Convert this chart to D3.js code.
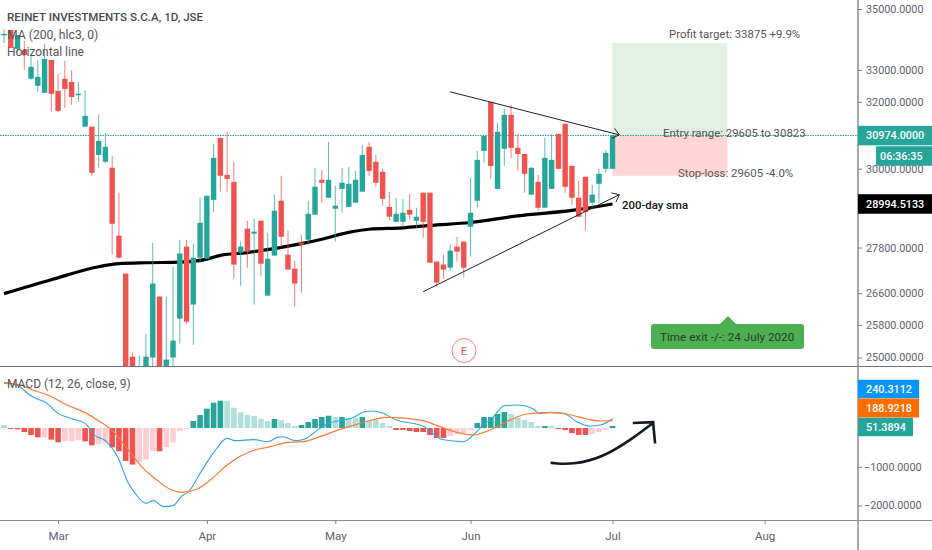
<!DOCTYPE html>
<html><head><meta charset="utf-8">
<script src="https://cdn.jsdelivr.net/npm/d3@7"></script>
<style>html,body{margin:0;padding:0;background:#fff;overflow:hidden}svg{display:block;font-family:Roboto,sans-serif}</style>
</head><body><svg id="c" width="932" height="550"></svg>
<script>
const opens=[34130,34300,33680,33640,32720,32500,32280,33320,32340,32720,32620,32220,31240,31240,30400,30200,30025,28120,27110,25020,24300,24400,25000,26515,24700,25000,25955,27825,26310,27530,27500,29110,30905,29820,29620,27665,28310,28175,28530,26540,27585,29085,27610,27240,27930,28010,28695,29680,29170,28860,29420,28915,29030,29340,30640,30200,29910,28915,28500,28500,28830,28530,29310,29310,27425,27345,27265,27825,27960,28365,29085,30520,32000,29420,30580,31600,30610,30430,29255,29620,28890,29420,31025,31330,30080,29170,29765,29030,29565,29995,29995];
const highs=[34330,34300,34130,33940,33480,33320,33840,33320,32880,33290,33000,32620,32370,31240,31600,31055,30370,29310,27110,25120,25045,25580,27930,26515,26515,27290,28010,28010,27905,29170,29225,30725,30905,31085,30200,27960,28530,28585,28530,28200,29255,29795,28255,27450,28145,29085,30025,29965,30785,29510,30025,30050,29935,30695,30785,30400,29995,29340,29170,29140,29280,28890,29310,29310,27425,27610,27880,28090,27960,29735,30520,30965,32000,31360,31780,31910,31025,30430,30050,29820,30905,31025,31025,31330,30080,29650,29765,29535,29995,30550,30974];
const lows=[33870,33710,33550,33000,32680,32310,32280,31690,31690,31810,31910,32000,31240,29795,30025,30170,27610,27500,24590,24300,24200,24300,24600,24500,24500,24600,25340,25830,25310,27395,27500,28775,29340,29340,26975,26795,27265,26310,27030,26540,27585,27825,27215,26260,26615,27880,28695,29030,29170,27960,28750,28915,29030,29340,29795,29480,28945,28530,28500,28365,28555,28335,28065,27395,26770,26975,27190,27425,27005,27560,28890,30170,29705,29420,30080,30315,29935,29310,29255,28805,28890,29420,29995,29310,28970,28640,28255,28830,29030,29880,29995];
const closes=[34170,33710,34130,33480,33100,32780,33350,32250,31720,32400,32150,32250,31570,29880,30815,30640,28445,27530,24590,24400,24700,25020,26850,24600,24950,25410,27640,25880,27530,28475,29225,30315,29795,29705,27345,27825,27690,28230,27370,27500,28805,28090,27215,26850,27880,28720,29480,29595,29680,28945,29595,29565,29680,30400,29935,29595,29140,28640,28720,28750,28695,28640,28500,27395,26875,27215,27720,27690,27265,28750,30255,30965,30080,31085,31600,30610,30430,29850,30025,28890,30315,30255,29995,29480,29170,28640,28775,29255,29850,30460,30974];

const smaIndex=[0,7,14,17,21,26,30,32,36,44,47,51,54,59,63,69,76,84,90];
const smaValues=[26590,26950,27290,27370,27395,27410,27490,27590,27665,27905,28025,28210,28295,28335,28400,28480,28665,28815,28994.5133];

const hist=[77,-26,-34,-103,-180,-240,-240,-300,-369,-343,-343,-317,-343,-446,-420,-395,-498,-600,-849,-944,-875,-815,-600,-600,-498,-369,-77,-17,180,335,498,652,704,704,523,403,335,309,232,180,232,206,129,51,77,154,232,283,317,283,283,257,257,283,206,206,129,51,-51,-51,-77,-103,-103,-180,-257,-257,-206,-154,-129,-51,129,283,283,360,412,360,257,206,154,51,51,51,-26,-51,-129,-180,-180,-154,-103,-51,51.3894];
const histStrong=[0,1,1,1,1,1,0,1,1,0,0,0,1,1,0,0,1,1,1,1,0,0,0,1,0,0,0,0,1,1,1,1,1,0,0,0,0,0,0,0,1,0,0,0,1,1,1,1,1,0,1,0,0,1,0,0,0,0,1,1,1,1,1,1,1,1,0,0,0,0,1,1,1,1,1,0,0,0,0,0,1,0,1,1,1,1,1,0,0,0,1];

const macdIndex=[0,2.1,3.8,5.3,6,8,10,12,13.5,15,16.9,18.4,19.4,21,22.1,23.6,25,26.3,27.3,29,31,33,34.2,36.9,39.1,40.4,41.3,43.1,44.5,46.7,47.7,51.7,53.2,54.4,56.1,57.8,62.2,63.7,64.7,66.5,68,69.4,70.9,72.4,73.9,75.9,78.3,79.1,80.8,82.8,84.7,86.5,88.2,90];
const macdValues=[1170,1092,851,722,679,378,241,120,-198,-327,-783,-1428,-1686,-1944,-1875,-2030,-2004,-1754,-1643,-1170,-636,-267,-327,-301,-353,-241,-224,-327,-284,-9,95,275,413,439,378,224,34,-181,-292,-335,-353,-181,77,292,568,593,490,378,404,378,163,52,77,240.3112];
const signalIndex=[0,2.1,4.3,6.8,9.3,12,14.2,16.2,18.4,20.6,22.6,24.6,26.3,28.5,30.5,33,35,37.1,39.4,41.8,44.3,46.7,49.7,52.7,56.6,59.6,62.5,64.5,67,69.4,71.9,74.9,77.3,80.8,83.2,86.2,88.2,90];
const signalValues=[1152,1127,980,826,593,396,163,-95,-568,-1041,-1342,-1582,-1660,-1582,-1342,-955,-722,-568,-482,-378,-353,-224,-34,120,275,249,163,34,-112,-181,-52,206,361,396,361,232,181,188.9218];

const priceTicks=[35000,33000,32000,30000,27800,26600,25800,25000];
const macdTicks=[-1000,-2000];
const monthLabels=["Mar","Apr","May","Jun","Jul","Aug"];
const monthIndex=[8,30,49,69,90,112.5];

const lastPrice=30974, smaLast=28994.5133, macdLast=240.3112, signalLast=188.9218, histLast=51.3894;
const targetPrice=33875, stopDrawn=29795;
const resistanceIdx=[66,91], resistancePx=[32310,30995];
const supportIdx=[62,91], supportPx=[26640,29255];
const curveArrowIdx=[81,84,88.5,93,96], curveArrowMacd=[-900,-950,-770,-270,130];
const arrowHeadIdx=[93,96,96.3], arrowHeadMacd=[130,150,-400];
const colors={up:"#26a69a",down:"#ef5350",upLight:"#b2dfdb",downLight:"#ffcdd2",grid:"#8a8c94"};

const svg=d3.select("#c");
const x=d3.scaleLinear().domain([0,90]).range([4,612.5]);
const y=d3.scaleLog().domain([35000,25000]).range([9,357.5]);
const m=d3.scaleLinear().domain([0,-2000]).range([428,505.5]);
const defs=svg.append("defs");
defs.append("clipPath").attr("id","pp").append("rect").attr("x",0).attr("y",0).attr("width",858).attr("height",366);
defs.append("clipPath").attr("id","mp").append("rect").attr("x",0).attr("y",367).attr("width",858).attr("height",153);

// price pane
const P=svg.append("g").attr("clip-path","url(#pp)");
P.append("rect").attr("x",x(90)).attr("width",x(107)-x(90)).attr("y",y(targetPrice)).attr("height",y(lastPrice)-y(targetPrice)).attr("fill","#e2f0e3");
P.append("rect").attr("x",x(90)).attr("width",x(107)-x(90)).attr("y",y(lastPrice)).attr("height",y(stopDrawn)-y(lastPrice)).attr("fill","#ffd5d5");
const dotY=Math.floor(y(lastPrice))+0.5;
P.append("line").attr("x1",0).attr("x2",858).attr("y1",dotY).attr("y2",dotY).attr("stroke",colors.up).attr("stroke-dasharray","1.5 1");
const sma=d3.line().x((d,i)=>x(smaIndex[i])).y(d=>y(d)).curve(d3.curveMonotoneX);
P.append("path").attr("d",sma(smaValues)).attr("fill","none").attr("stroke","#000").attr("stroke-width",3.2);
opens.forEach((o,i)=>{
  const c=closes[i],col=c>=o?colors.up:colors.down;
  P.append("line").attr("x1",x(i)).attr("x2",x(i)).attr("y1",y(highs[i])).attr("y2",y(lows[i])).attr("stroke",col).attr("stroke-width",1).attr("opacity",.75);
  const t=y(Math.max(o,c)),b=y(Math.min(o,c));
  P.append("rect").attr("x",x(i)-2.7).attr("width",5.4).attr("y",t).attr("height",Math.max(b-t,1.5)).attr("fill",col);
});
const straight=(ix,px)=>d3.line().x((d,i)=>x(ix[i])).y((d,i)=>y(px[i]))(ix);
function chevron(g,ix,px){
  const x2=x(ix[1]),y2=y(px[1]),a=Math.atan2(y2-y(px[0]),x2-x(ix[0]));
  const h=[a+2.45,a-2.45].map(t=>[x2+8*Math.cos(t),y2+8*Math.sin(t)]);
  g.append("path").attr("d",d3.line()([h[0],[x2,y2],h[1]])).attr("fill","none").attr("stroke","#222").attr("stroke-width",1);
}
[[resistanceIdx,resistancePx],[supportIdx,supportPx]].forEach(([ix,px])=>{
  P.append("path").attr("d",straight(ix,px)).attr("stroke","#222").attr("stroke-width",1).attr("fill","none");
  chevron(P,ix,px);
});

// macd pane
const M=svg.append("g").attr("clip-path","url(#mp)");
hist.forEach((v,i)=>{
  const s=histStrong[i],col=v>=0?(s?colors.up:colors.upLight):(s?colors.down:colors.downLight);
  const a=m(v),z=m(0);
  M.append("rect").attr("x",x(i)-2.8).attr("width",5.6).attr("y",Math.min(a,z)).attr("height",Math.max(Math.abs(a-z),1)).attr("fill",col);
});
const mkLine=(ix)=>d3.line().x((d,i)=>x(ix[i])).y(d=>m(d)).curve(d3.curveMonotoneX);
M.append("path").attr("d",mkLine(macdIndex)(macdValues)).attr("fill","none").attr("stroke","#2ea6e6").attr("stroke-width",1.1);
M.append("path").attr("d",mkLine(signalIndex)(signalValues)).attr("fill","none").attr("stroke","#ff7a33").attr("stroke-width",1.2);
const arrowCurve=d3.line().x((d,i)=>x(curveArrowIdx[i])).y(d=>m(d)).curve(d3.curveBasis);
M.append("path").attr("d",arrowCurve(curveArrowMacd)).attr("fill","none").attr("stroke","#14181f").attr("stroke-width",2.6).attr("stroke-linecap","round");
M.append("path").attr("d",d3.line().x((d,i)=>x(arrowHeadIdx[i])).y(d=>m(d))(arrowHeadMacd)).attr("fill","none").attr("stroke","#14181f").attr("stroke-width",2.6);

// frame
svg.append("line").attr("x1",0).attr("x2",932).attr("y1",366.5).attr("y2",366.5).attr("stroke","#6f717a").attr("stroke-width",1);
svg.append("line").attr("x1",0).attr("x2",932).attr("y1",520.5).attr("y2",520.5).attr("stroke",colors.grid).attr("stroke-width",1.2);
svg.append("line").attr("x1",858).attr("x2",858).attr("y1",0).attr("y2",550).attr("stroke",colors.grid).attr("stroke-width",1.5);

// axes
const axFont=(g,size)=>{g.select(".domain").remove();g.selectAll("line").attr("stroke","#7a7c85");g.selectAll("text").attr("fill","#5d606b").style("font-size",size+"px").style("font-family","Roboto,sans-serif");};
svg.append("g").attr("transform","translate(858,0)").call(d3.axisRight(y).tickValues(priceTicks).tickFormat(d3.format(".4f")).tickSize(4).tickPadding(4)).call(axFont,10.8);
svg.append("g").attr("transform","translate(858,0)").call(d3.axisRight(m).tickValues(macdTicks).tickFormat(d3.format(".4f")).tickSize(4).tickPadding(2)).call(axFont,10.8);
svg.append("g").attr("transform","translate(0,520)").call(d3.axisBottom(x).tickValues(monthIndex).tickFormat((d,i)=>monthLabels[i]).tickSize(4).tickPadding(8)).call(axFont,11.5);

// badges
function badge(cy,h,x0,x1,fill,text,tx){
  svg.append("rect").attr("x",x0).attr("width",x1-x0).attr("y",cy-h/2).attr("height",h).attr("fill",fill);
  svg.append("text").attr("x",tx).attr("y",cy).attr("dy","0.35em").attr("fill","#fff").style("font-size","10.8px").style("font-weight",500).text(text);
}
const f4=d3.format(".4f");
badge(y(lastPrice),19.5,858,932,colors.up,f4(lastPrice),866);
badge(156,19.5,876,932,colors.up,"06:36:35",880);
badge(y(smaLast),19.5,858,932,"#000",f4(smaLast),866);
badge(389,18.5,858,919,"#0496ff",f4(macdLast),866);
badge(408,19,858,919,"#ff6d00",f4(signalLast),866);
badge(427,18.5,858,913,colors.up,f4(histLast),866);

// annotation text
const label=(px,py,t,o={})=>svg.append("text").attr("x",px).attr("y",py).attr("fill",o.fill||"#555").attr("text-anchor",o.anchor||"start").style("font-size",(o.size||11.4)+"px").style("font-weight",o.weight||400).text(t);
label(7,21,"REINET INVESTMENTS S.C.A, 1D, JSE",{fill:"#4a4a4a",size:11.6,weight:500});
label(7,39,"MA (200, hlc3, 0)",{size:12.2});
label(7,56,"Horizontal line",{size:12});
label(7,388,"MACD (12, 26, close, 9)",{size:12});
label(669,38,"Profit target: 33875 +9.9%");
label(663,137,"Entry range: 29605 to 30823");
label(678,177,"Stop-loss: 29605 -4.0%");
label(622,209,"200-day sma",{fill:"#111",weight:500});

// time exit note
svg.append("rect").attr("x",651).attr("y",324).attr("width",153).attr("height",25).attr("rx",3).attr("fill","#4caf50");
svg.append("path").attr("d","M720 324L728 316L736 324Z").attr("fill","#4caf50");
label(660,341,"Time exit -/-: 24 July 2020",{fill:"#2c3a2c",size:11.7});
svg.append("circle").attr("cx",464).attr("cy",350.5).attr("r",12).attr("fill","none").attr("stroke","#f77").attr("stroke-width",1);
label(464,354.5,"E",{fill:"#ef5350",anchor:"middle"});
</script></body></html>
